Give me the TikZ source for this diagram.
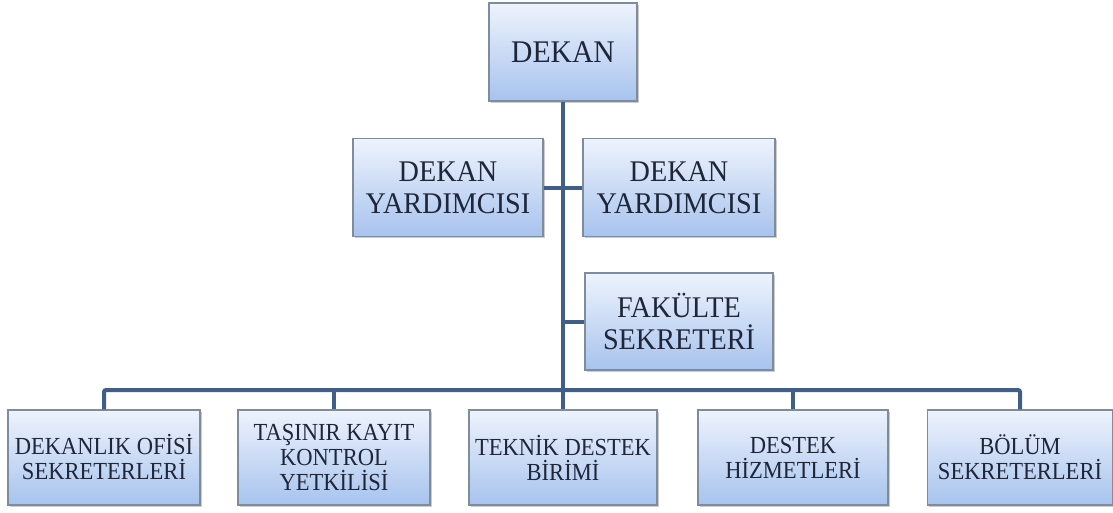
\documentclass[tikz,border=0pt]{standalone}
\usepackage{fontspec}
\setmainfont{Liberation Serif}
\newfontfamily\topfont{Liberation Serif}[FakeStretch=0.94]
\newfontfamily\unitfont{Liberation Serif}[FakeStretch=0.92]
\usetikzlibrary{shadows}
\definecolor{boxtop}{HTML}{EEF3FD}
\definecolor{boxbot}{HTML}{A7C3EE}
\definecolor{boxline}{HTML}{7F8C9C}
\definecolor{linkcol}{HTML}{3F5E88}
\definecolor{txtcol}{HTML}{1E2638}
\begin{document}
\begin{tikzpicture}[x=1pt,y=-1pt,
  unit/.style={draw=boxline, line width=1.3pt, top color=boxtop, bottom color=boxbot,
    text=txtcol, align=center, inner sep=0pt,
    drop shadow={opacity=0.4, shadow xshift=1.8pt, shadow yshift=-1.8pt}},
  big/.style={unit, font=\topfont\fontsize{30}{32}\selectfont, minimum height=98pt},
  small/.style={unit, font=\unitfont\fontsize{24.5}{25}\selectfont, minimum height=95pt},
  link/.style={draw=linkcol, line width=4pt}]
  \useasboundingbox (0,0) rectangle (1113,512);
  % top of the chart
  \node[big, minimum width=148pt, font=\topfont\fontsize{31.5}{32}\selectfont] (dekan) at (563,52) {DEKAN};
  \node[big, minimum width=190pt] (dy1) at (448,187.5) {DEKAN\\YARDIMCISI};
  \node[big, minimum width=192pt] (dy2) at (679,187.5) {DEKAN\\YARDIMCISI};
  \node[big, minimum width=188pt, minimum height=97pt] (fak) at (679,321.5) {FAKÜLTE\\SEKRETERİ};
  % units
  \node[small, minimum width=192pt] (b1) at (104,457.5) {DEKANLIK OFİSİ\\SEKRETERLERİ};
  \node[small, minimum width=192pt] (b2) at (334,457.5) {TAŞINIR KAYIT\\KONTROL\\YETKİLİSİ};
  \node[small, minimum width=188pt] (b3) at (563,457.5) {TEKNİK DESTEK\\BİRİMİ};
  \node[small, minimum width=190pt] (b4) at (793,457.5) {DESTEK\\HİZMETLERİ};
  \node[small, minimum width=185pt] (b5) at (1020,457.5) {BÖLÜM\\SEKRETERLERİ};
  \coordinate (bar) at (563,390);
  % connectors
  \draw[link] (dekan.south) -- (b3.north);
  \draw[link] (dy1.east) -- (dy2.west);
  \draw[link] (dekan.south |- fak.west) -- (fak.west);
  \draw[link, rounded corners=2pt] (b1.north) |- (bar) -| (b5.north);
  \draw[link] (b2.north) -- (b2.north |- bar);
  \draw[link] (b4.north) -- (b4.north |- bar);
\end{tikzpicture}
\end{document}
